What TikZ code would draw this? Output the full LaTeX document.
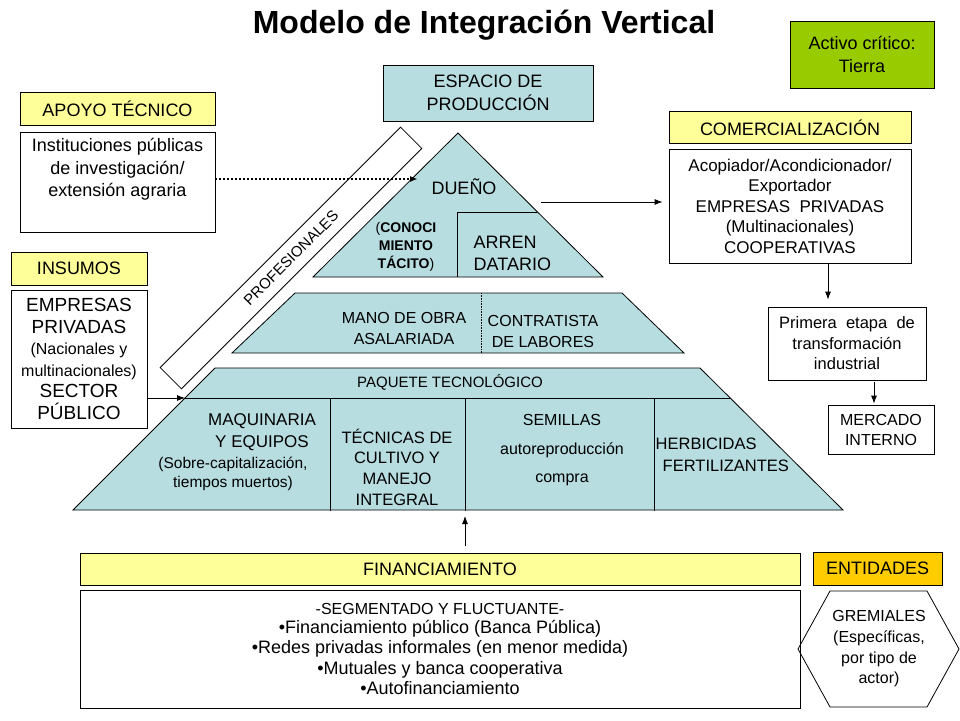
\documentclass[tikz,border=0pt]{standalone}
\usepackage{fontspec}
\setmainfont{Liberation Sans}
\usetikzlibrary{arrows.meta}

\definecolor{hdryellow}{HTML}{FFFF99}
\definecolor{pyrblue}{HTML}{B7DDE0}
\definecolor{activegreen}{HTML}{99CC00}
\definecolor{entorange}{HTML}{FFCC00}
\newcommand{\fsz}[2]{\fontsize{#1}{#2}\selectfont}

\tikzset{
  hdr/.style={draw, fill=hdryellow, inner sep=0pt, font=\fsz{18}{22}},
  txtbox/.style={draw, fill=white, inner sep=0pt, align=center},
  arr/.style={-{Latex[length=8pt,width=6pt]}},
  pyr/.style={draw, fill=pyrblue},
}

\begin{document}
\begin{tikzpicture}[x=1pt, y=-1pt, line width=0.8pt]
\useasboundingbox (0,0) rectangle (960,720);

\node[font=\bfseries\fsz{32}{36}] (title) at (484,25) {Modelo de Integración Vertical};
\node[draw, fill=activegreen, minimum width=144, minimum height=67, align=center, font=\fsz{18}{23}] (activo) at (862,54.5) {Activo crítico:\\Tierra};
\node[draw, fill=pyrblue, minimum width=210, minimum height=56, align=center, font=\fsz{18}{23}] (espacio) at (488,93) {ESPACIO DE\\PRODUCCIÓN};

% apoyo tecnico / insumos
\node[hdr, minimum width=195, minimum height=33] (apoyo) at (117.5,108.5) {APOYO TÉCNICO};
\node[txtbox, minimum width=195, minimum height=100, font=\fsz{18}{22.5}] (inst) at (117.5,182) {Instituciones públicas\\de investigación/\\extensión agraria\\\strut};
\node[hdr, minimum width=136, minimum height=33] (insumos) at (79,268.5) {INSUMOS};
\node[txtbox, minimum width=136, minimum height=138, font=\fsz{19}{21.5}] (emp) at (79,359) {EMPRESAS\\PRIVADAS\\{\fsz{16}{21.5}(Nacionales y}\\{\fsz{16}{21.5}multinacionales)}\\SECTOR\\PÚBLICO};

\node[draw, fill=white, rotate=45, minimum width=340, minimum height=30, inner sep=0pt, font=\fsz{15}{18}] (prof) at (291,258) {PROFESIONALES};

% pyramid, top
\coordinate (T0) at (458,133);
\coordinate (T1) at (313,277);
\coordinate (T2) at (603,277);
\coordinate (T3) at (457,277);
\coordinate (T4) at (457,212);
\coordinate (T5) at (537,212);
\draw[pyr] (T0) -- (T2) -- (T1) -- cycle;
\draw (T3) -- (T4) -- (T5);
\node[font=\fsz{18}{22}] (dueno) at (464,187) {DUEÑO};
\node[align=center, font=\fsz{14}{18}] (tacito) at (406,247) {(\textbf{CONOCI}\\\textbf{MIENTO}\\\textbf{TÁCITO})};
\node[anchor=west, align=left, font=\fsz{18}{22}] (arren) at (470,253) {ARREN\\DATARIO};

% pyramid, middle
\coordinate (M0) at (295,293);
\coordinate (M1) at (622,293);
\coordinate (M2) at (684,353);
\coordinate (M3) at (232,353);
\coordinate (M4) at (481,293);
\coordinate (M5) at (481,353);
\draw[pyr] (M0) -- (M1) -- (M2) -- (M3) -- cycle;
\draw[densely dotted, line width=0.6pt] (M4) -- (M5);
\node[align=center, font=\fsz{16}{21}] (mano) at (404,328) {MANO DE OBRA\\ASALARIADA};
\node[align=center, font=\fsz{16}{21}] (contr) at (543,331) {CONTRATISTA\\DE LABORES};

% pyramid, bottom
\coordinate (B0) at (215,368);
\coordinate (B1) at (700,368);
\coordinate (B2) at (843,510);
\coordinate (B3) at (73,510);
\coordinate (B4) at (185,398);
\coordinate (B5) at (730,398);
\coordinate (divB) at (465,510);
\draw[pyr] (B0) -- (B1) -- (B2) -- (B3) -- cycle;
\draw (B4) -- (B5);
\foreach \x in {330,465,654} \draw (\x,398) -- (\x,511);
\node[font=\fsz{15}{18}] (paquete) at (450,382) {PAQUETE TECNOLÓGICO};
\node[align=center, font=\fsz{17}{22}] (maq) at (262,432) {MAQUINARIA\\Y EQUIPOS};
\node[align=center, font=\fsz{15.5}{19}] (sobre) at (233,474) {(Sobre-capitalización,\\tiempos muertos)};
\node[align=center, font=\fsz{16.5}{20.7}] (tecn) at (397,467) {TÉCNICAS DE\\CULTIVO Y\\MANEJO\\INTEGRAL};
\node[align=center, font=\fsz{16}{21}] (semillas) at (562,450) {SEMILLAS\\[8pt]autoreproducción\\[7pt]compra};
\node[anchor=west, align=left, font=\fsz{16.5}{22}] (herb) at (652,455) {HERBICIDAS\\\hspace*{7pt}FERTILIZANTES};

% comercializacion
\node[hdr, minimum width=242, minimum height=32] (comerhdr) at (790,127.5) {COMERCIALIZACIÓN};
\node[txtbox, minimum width=242, minimum height=114, font=\fsz{17}{20.5}] (comer) at (790,206) {Acopiador/Acondicionador/\\Exportador\\EMPRESAS~ PRIVADAS\\(Multinacionales)\\COOPERATIVAS};
\node[txtbox, minimum width=158, minimum height=73, font=\fsz{16.5}{20.5}] (prim) at (847,343.5) {Primera~ etapa~ de\\transformación\\industrial};
\node[txtbox, minimum width=106, minimum height=49, font=\fsz{16}{20}] (merc) at (881,429.5) {MERCADO\\INTERNO};

% financiamiento / entidades
\node[hdr, minimum width=720, minimum height=32] (finhdr) at (440,569) {FINANCIAMIENTO};
\node[txtbox, minimum width=720, minimum height=118, font=\fsz{18}{20.5}] (fin) at (440,649) {{\fsz{16}{20.5}-SEGMENTADO Y FLUCTUANTE-}\\[-1.5pt]•Financiamiento público (Banca Pública)\\•Redes privadas informales (en menor medida)\\•Mutuales y banca cooperativa\\•Autofinanciamiento};
\node[draw, fill=entorange, minimum width=129, minimum height=33, inner sep=0pt, font=\fsz{18}{22}] (entid) at (877.5,568.5) {ENTIDADES};
\node[align=center, font=\fsz{16}{20.7}] (grem) at (879,649) {GREMIALES\\(Específicas,\\por tipo de\\actor)};
\draw (798,649) -- (830,591) -- (927,591) -- (959,649) -- (927,707) -- (830,707) -- cycle;

% connectors
\coordinate (duenoL) at (418,179);
\coordinate (duenoR) at (541,202);
\coordinate (p1) at ([xshift=-19]prim.north);
\coordinate (m1) at ([xshift=-7]merc.north);
\draw[arr, dash pattern=on 2pt off 2pt, line width=2pt] (inst.east |- duenoL) -- (duenoL);
\draw[arr, shorten >=6pt] (duenoR) -- (comer.west |- duenoR);
\draw[arr] (emp.east |- B4) -- (B4);
\draw[arr, shorten >=7pt] (p1 |- comer.south) -- (p1);
\draw[arr, shorten <=2pt, shorten >=1pt] (m1 |- prim.south) -- (m1);
\draw[arr, shorten <=7pt, shorten >=6pt] (finhdr.north -| divB) -- (divB);
\end{tikzpicture}
\end{document}
